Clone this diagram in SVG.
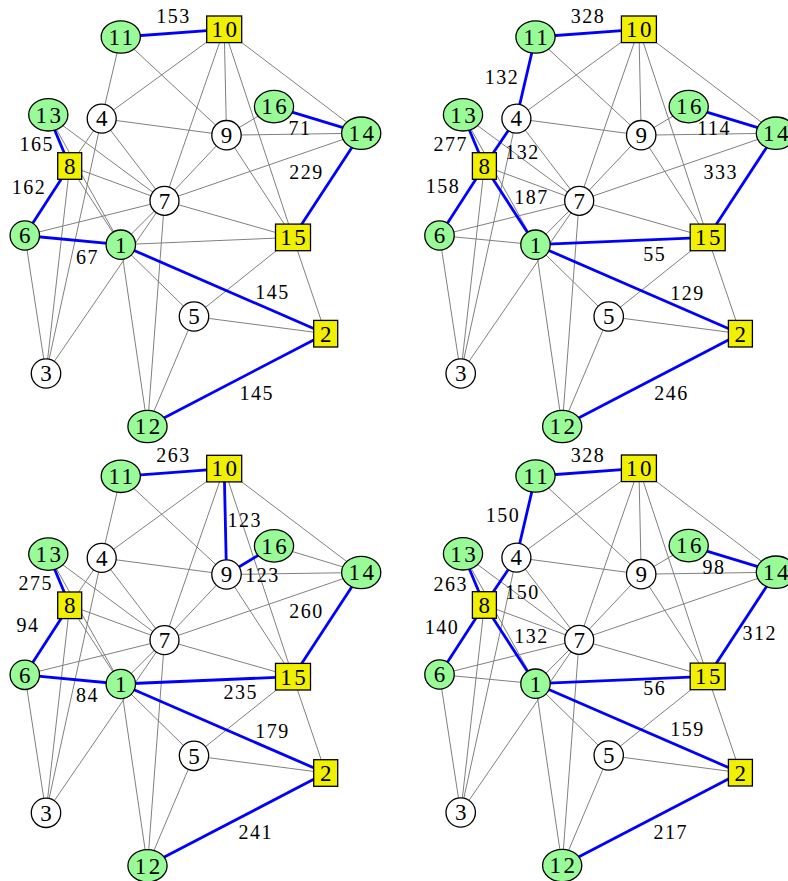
<svg xmlns="http://www.w3.org/2000/svg" width="788" height="881" viewBox="0 0 788 881">
<style>
  .edges line { stroke: #808080; stroke-width: 1; fill: none; }
  .edges line.b { stroke: #0000ff; stroke-width: 2.8; }
  .node circle, .node ellipse, .node rect { stroke: #000; stroke-width: 1.3; }
  .g { fill: #98fb98; }
  .y { fill: #f0f000; }
  .w { fill: #ffffff; }
  .nl { font-family: "Liberation Serif", "DejaVu Serif", serif; font-size: 23px; letter-spacing: 2.5px; text-anchor: middle; fill: #000; }
  .el { font-family: "Liberation Serif", "DejaVu Serif", serif; font-size: 20px; letter-spacing: 1.5px; text-anchor: middle; fill: #000; }
</style>
<rect width="788" height="881" fill="#ffffff"/>

<!-- Panel 1 -->
<g id="panel1">
  <g id="p1-connectors" class="edges">
    <line x1="120.8" y1="37" x2="101.7" y2="118.6"/>
    <line x1="120.8" y1="37" x2="226.5" y2="135.2"/>
    <line x1="224.2" y1="29.3" x2="101.7" y2="118.6"/>
    <line x1="224.2" y1="29.3" x2="226.5" y2="135.2"/>
    <line x1="224.2" y1="29.3" x2="164.5" y2="200.8"/>
    <line x1="224.2" y1="29.3" x2="293" y2="237.4"/>
    <line x1="224.2" y1="29.3" x2="361.2" y2="133.2"/>
    <line x1="48.3" y1="114.8" x2="164.5" y2="200.8"/>
    <line x1="48.3" y1="114.8" x2="120.8" y2="244.7"/>
    <line x1="101.7" y1="118.6" x2="226.5" y2="135.2"/>
    <line x1="101.7" y1="118.6" x2="69.7" y2="166"/>
    <line x1="101.7" y1="118.6" x2="164.5" y2="200.8"/>
    <line x1="101.7" y1="118.6" x2="46" y2="373.5"/>
    <line x1="274" y1="106.6" x2="226.5" y2="135.2"/>
    <line x1="226.5" y1="135.2" x2="361.2" y2="133.2"/>
    <line x1="226.5" y1="135.2" x2="164.5" y2="200.8"/>
    <line x1="226.5" y1="135.2" x2="293" y2="237.4"/>
    <line x1="361.2" y1="133.2" x2="164.5" y2="200.8"/>
    <line x1="69.7" y1="166" x2="164.5" y2="200.8"/>
    <line x1="69.7" y1="166" x2="46" y2="373.5"/>
    <line x1="69.7" y1="166" x2="120.8" y2="244.7"/>
    <line x1="164.5" y1="200.8" x2="24.8" y2="235.5"/>
    <line x1="164.5" y1="200.8" x2="120.8" y2="244.7"/>
    <line x1="164.5" y1="200.8" x2="147.5" y2="426.5"/>
    <line x1="164.5" y1="200.8" x2="293" y2="237.4"/>
    <line x1="164.5" y1="200.8" x2="46" y2="373.5"/>
    <line x1="24.8" y1="235.5" x2="46" y2="373.5"/>
    <line x1="120.8" y1="244.7" x2="293" y2="237.4"/>
    <line x1="120.8" y1="244.7" x2="194" y2="316.5"/>
    <line x1="120.8" y1="244.7" x2="147.5" y2="426.5"/>
    <line x1="293" y1="237.4" x2="194" y2="316.5"/>
    <line x1="293" y1="237.4" x2="325.7" y2="333.7"/>
    <line x1="194" y1="316.5" x2="325.7" y2="333.7"/>
    <line x1="194" y1="316.5" x2="147.5" y2="426.5"/>
    <line class="b" x1="120.8" y1="37" x2="224.2" y2="29.3"/>
    <line class="b" x1="48.3" y1="114.8" x2="69.7" y2="166"/>
    <line class="b" x1="69.7" y1="166" x2="24.8" y2="235.5"/>
    <line class="b" x1="24.8" y1="235.5" x2="120.8" y2="244.7"/>
    <line class="b" x1="120.8" y1="244.7" x2="325.7" y2="333.7"/>
    <line class="b" x1="147.5" y1="426.5" x2="325.7" y2="333.7"/>
    <line class="b" x1="361.2" y1="133.2" x2="293" y2="237.4"/>
    <line class="b" x1="274" y1="106.6" x2="361.2" y2="133.2"/>
  </g>
  <g id="p1-weights">
    <text class="el" x="173.5" y="22.8">153</text>
    <text class="el" x="36.8" y="150.8">165</text>
    <text class="el" x="29.1" y="193.5">162</text>
    <text class="el" x="300" y="135.1">71</text>
    <text class="el" x="306.5" y="178.5">229</text>
    <text class="el" x="87.5" y="263.5">67</text>
    <text class="el" x="272.5" y="299.1">145</text>
    <text class="el" x="256.8" y="399.5">145</text>
  </g>
  <g id="p1-n1" class="node" transform="translate(120.8,244.7)"><circle class="g" r="14.7"/><text class="nl" x="1.2" y="7.8">1</text></g>
  <g id="p1-n2" class="node" transform="translate(325.7,333.7)"><rect class="y" x="-12" y="-13.3" width="24" height="26.6"/><text class="nl" x="1.2" y="7.8">2</text></g>
  <g id="p1-n3" class="node" transform="translate(46,373.5)"><circle class="w" r="14.7"/><text class="nl" x="1.2" y="7.8">3</text></g>
  <g id="p1-n4" class="node" transform="translate(101.7,118.6)"><circle class="w" r="14.5"/><text class="nl" x="1.2" y="7.8">4</text></g>
  <g id="p1-n5" class="node" transform="translate(194,316.5)"><circle class="w" r="14.7"/><text class="nl" x="1.2" y="7.8">5</text></g>
  <g id="p1-n6" class="node" transform="translate(24.8,235.5)"><circle class="g" r="14.7"/><text class="nl" x="1.2" y="7.8">6</text></g>
  <g id="p1-n7" class="node" transform="translate(164.5,200.8)"><circle class="w" r="14.5"/><text class="nl" x="1.2" y="7.8">7</text></g>
  <g id="p1-n8" class="node" transform="translate(69.7,166)"><rect class="y" x="-12" y="-13.3" width="24" height="26.6"/><text class="nl" x="1.2" y="7.8">8</text></g>
  <g id="p1-n9" class="node" transform="translate(226.5,135.2)"><circle class="w" r="14.7"/><text class="nl" x="1.2" y="7.8">9</text></g>
  <g id="p1-n10" class="node" transform="translate(224.2,29.3)"><rect class="y" x="-17.5" y="-13.3" width="35" height="26.6"/><text class="nl" x="1.2" y="7.8">10</text></g>
  <g id="p1-n11" class="node" transform="translate(120.8,37)"><ellipse class="g" rx="19.6" ry="16.2"/><text class="nl" x="1.2" y="7.8">11</text></g>
  <g id="p1-n12" class="node" transform="translate(147.5,426.5)"><ellipse class="g" rx="19.6" ry="16.2"/><text class="nl" x="1.2" y="7.8">12</text></g>
  <g id="p1-n13" class="node" transform="translate(48.3,114.8)"><ellipse class="g" rx="19.6" ry="16.2"/><text class="nl" x="1.2" y="7.8">13</text></g>
  <g id="p1-n14" class="node" transform="translate(361.2,133.2)"><ellipse class="g" rx="19.6" ry="16.2"/><text class="nl" x="1.2" y="7.8">14</text></g>
  <g id="p1-n15" class="node" transform="translate(293,237.4)"><rect class="y" x="-17.5" y="-13.3" width="35" height="26.6"/><text class="nl" x="1.2" y="7.8">15</text></g>
  <g id="p1-n16" class="node" transform="translate(274,106.6)"><ellipse class="g" rx="19.6" ry="16.2"/><text class="nl" x="1.2" y="7.8">16</text></g>
</g>

<!-- Panel 2 -->
<g id="panel2" transform="translate(414.7,0)">
  <g id="p2-connectors" class="edges">
    <line x1="120.8" y1="37" x2="226.5" y2="135.2"/>
    <line x1="224.2" y1="29.3" x2="101.7" y2="118.6"/>
    <line x1="224.2" y1="29.3" x2="226.5" y2="135.2"/>
    <line x1="224.2" y1="29.3" x2="164.5" y2="200.8"/>
    <line x1="224.2" y1="29.3" x2="293" y2="237.4"/>
    <line x1="224.2" y1="29.3" x2="361.2" y2="133.2"/>
    <line x1="48.3" y1="114.8" x2="164.5" y2="200.8"/>
    <line x1="48.3" y1="114.8" x2="120.8" y2="244.7"/>
    <line x1="101.7" y1="118.6" x2="226.5" y2="135.2"/>
    <line x1="101.7" y1="118.6" x2="164.5" y2="200.8"/>
    <line x1="101.7" y1="118.6" x2="46" y2="373.5"/>
    <line x1="274" y1="106.6" x2="226.5" y2="135.2"/>
    <line x1="226.5" y1="135.2" x2="361.2" y2="133.2"/>
    <line x1="226.5" y1="135.2" x2="164.5" y2="200.8"/>
    <line x1="226.5" y1="135.2" x2="293" y2="237.4"/>
    <line x1="361.2" y1="133.2" x2="164.5" y2="200.8"/>
    <line x1="69.7" y1="166" x2="164.5" y2="200.8"/>
    <line x1="69.7" y1="166" x2="46" y2="373.5"/>
    <line x1="164.5" y1="200.8" x2="24.8" y2="235.5"/>
    <line x1="164.5" y1="200.8" x2="120.8" y2="244.7"/>
    <line x1="164.5" y1="200.8" x2="147.5" y2="426.5"/>
    <line x1="164.5" y1="200.8" x2="293" y2="237.4"/>
    <line x1="164.5" y1="200.8" x2="46" y2="373.5"/>
    <line x1="24.8" y1="235.5" x2="120.8" y2="244.7"/>
    <line x1="24.8" y1="235.5" x2="46" y2="373.5"/>
    <line x1="120.8" y1="244.7" x2="194" y2="316.5"/>
    <line x1="120.8" y1="244.7" x2="147.5" y2="426.5"/>
    <line x1="293" y1="237.4" x2="194" y2="316.5"/>
    <line x1="293" y1="237.4" x2="325.7" y2="333.7"/>
    <line x1="194" y1="316.5" x2="325.7" y2="333.7"/>
    <line x1="194" y1="316.5" x2="147.5" y2="426.5"/>
    <line class="b" x1="120.8" y1="37" x2="224.2" y2="29.3"/>
    <line class="b" x1="120.8" y1="37" x2="101.7" y2="118.6"/>
    <line class="b" x1="101.7" y1="118.6" x2="69.7" y2="166"/>
    <line class="b" x1="48.3" y1="114.8" x2="69.7" y2="166"/>
    <line class="b" x1="69.7" y1="166" x2="24.8" y2="235.5"/>
    <line class="b" x1="69.7" y1="166" x2="120.8" y2="244.7"/>
    <line class="b" x1="120.8" y1="244.7" x2="293" y2="237.4"/>
    <line class="b" x1="120.8" y1="244.7" x2="325.7" y2="333.7"/>
    <line class="b" x1="147.5" y1="426.5" x2="325.7" y2="333.7"/>
    <line class="b" x1="361.2" y1="133.2" x2="293" y2="237.4"/>
    <line class="b" x1="274" y1="106.6" x2="361.2" y2="133.2"/>
  </g>
  <g id="p2-weights">
    <text class="el" x="173.4" y="22.8">328</text>
    <text class="el" x="87.4" y="83.5">132</text>
    <text class="el" x="36.1" y="151.1">277</text>
    <text class="el" x="107.8" y="159.1">132</text>
    <text class="el" x="28.4" y="192.8">158</text>
    <text class="el" x="116.8" y="203.5">187</text>
    <text class="el" x="299.4" y="135.1">114</text>
    <text class="el" x="306.1" y="178.5">333</text>
    <text class="el" x="240.1" y="260.8">55</text>
    <text class="el" x="272.8" y="299.5">129</text>
    <text class="el" x="256.8" y="400.1">246</text>
  </g>
  <g id="p2-n1" class="node" transform="translate(120.8,244.7)"><circle class="g" r="14.7"/><text class="nl" x="1.2" y="7.8">1</text></g>
  <g id="p2-n2" class="node" transform="translate(325.7,333.7)"><rect class="y" x="-12" y="-13.3" width="24" height="26.6"/><text class="nl" x="1.2" y="7.8">2</text></g>
  <g id="p2-n3" class="node" transform="translate(46,373.5)"><circle class="w" r="14.7"/><text class="nl" x="1.2" y="7.8">3</text></g>
  <g id="p2-n4" class="node" transform="translate(101.7,118.6)"><circle class="w" r="14.5"/><text class="nl" x="1.2" y="7.8">4</text></g>
  <g id="p2-n5" class="node" transform="translate(194,316.5)"><circle class="w" r="14.7"/><text class="nl" x="1.2" y="7.8">5</text></g>
  <g id="p2-n6" class="node" transform="translate(24.8,235.5)"><circle class="g" r="14.7"/><text class="nl" x="1.2" y="7.8">6</text></g>
  <g id="p2-n7" class="node" transform="translate(164.5,200.8)"><circle class="w" r="14.5"/><text class="nl" x="1.2" y="7.8">7</text></g>
  <g id="p2-n8" class="node" transform="translate(69.7,166)"><rect class="y" x="-12" y="-13.3" width="24" height="26.6"/><text class="nl" x="1.2" y="7.8">8</text></g>
  <g id="p2-n9" class="node" transform="translate(226.5,135.2)"><circle class="w" r="14.7"/><text class="nl" x="1.2" y="7.8">9</text></g>
  <g id="p2-n10" class="node" transform="translate(224.2,29.3)"><rect class="y" x="-17.5" y="-13.3" width="35" height="26.6"/><text class="nl" x="1.2" y="7.8">10</text></g>
  <g id="p2-n11" class="node" transform="translate(120.8,37)"><ellipse class="g" rx="19.6" ry="16.2"/><text class="nl" x="1.2" y="7.8">11</text></g>
  <g id="p2-n12" class="node" transform="translate(147.5,426.5)"><ellipse class="g" rx="19.6" ry="16.2"/><text class="nl" x="1.2" y="7.8">12</text></g>
  <g id="p2-n13" class="node" transform="translate(48.3,114.8)"><ellipse class="g" rx="19.6" ry="16.2"/><text class="nl" x="1.2" y="7.8">13</text></g>
  <g id="p2-n14" class="node" transform="translate(361.2,133.2)"><ellipse class="g" rx="19.6" ry="16.2"/><text class="nl" x="1.2" y="7.8">14</text></g>
  <g id="p2-n15" class="node" transform="translate(293,237.4)"><rect class="y" x="-17.5" y="-13.3" width="35" height="26.6"/><text class="nl" x="1.2" y="7.8">15</text></g>
  <g id="p2-n16" class="node" transform="translate(274,106.6)"><ellipse class="g" rx="19.6" ry="16.2"/><text class="nl" x="1.2" y="7.8">16</text></g>
</g>

<!-- Panel 3 -->
<g id="panel3" transform="translate(0,439.3)">
  <g id="p3-connectors" class="edges">
    <line x1="120.8" y1="37" x2="101.7" y2="118.6"/>
    <line x1="120.8" y1="37" x2="226.5" y2="135.2"/>
    <line x1="224.2" y1="29.3" x2="101.7" y2="118.6"/>
    <line x1="224.2" y1="29.3" x2="164.5" y2="200.8"/>
    <line x1="224.2" y1="29.3" x2="293" y2="237.4"/>
    <line x1="224.2" y1="29.3" x2="361.2" y2="133.2"/>
    <line x1="48.3" y1="114.8" x2="164.5" y2="200.8"/>
    <line x1="48.3" y1="114.8" x2="120.8" y2="244.7"/>
    <line x1="101.7" y1="118.6" x2="226.5" y2="135.2"/>
    <line x1="101.7" y1="118.6" x2="69.7" y2="166"/>
    <line x1="101.7" y1="118.6" x2="164.5" y2="200.8"/>
    <line x1="101.7" y1="118.6" x2="46" y2="373.5"/>
    <line x1="274" y1="106.6" x2="361.2" y2="133.2"/>
    <line x1="226.5" y1="135.2" x2="361.2" y2="133.2"/>
    <line x1="226.5" y1="135.2" x2="164.5" y2="200.8"/>
    <line x1="226.5" y1="135.2" x2="293" y2="237.4"/>
    <line x1="361.2" y1="133.2" x2="164.5" y2="200.8"/>
    <line x1="69.7" y1="166" x2="164.5" y2="200.8"/>
    <line x1="69.7" y1="166" x2="46" y2="373.5"/>
    <line x1="69.7" y1="166" x2="120.8" y2="244.7"/>
    <line x1="164.5" y1="200.8" x2="24.8" y2="235.5"/>
    <line x1="164.5" y1="200.8" x2="120.8" y2="244.7"/>
    <line x1="164.5" y1="200.8" x2="147.5" y2="426.5"/>
    <line x1="164.5" y1="200.8" x2="293" y2="237.4"/>
    <line x1="164.5" y1="200.8" x2="46" y2="373.5"/>
    <line x1="24.8" y1="235.5" x2="46" y2="373.5"/>
    <line x1="120.8" y1="244.7" x2="194" y2="316.5"/>
    <line x1="120.8" y1="244.7" x2="147.5" y2="426.5"/>
    <line x1="293" y1="237.4" x2="194" y2="316.5"/>
    <line x1="293" y1="237.4" x2="325.7" y2="333.7"/>
    <line x1="194" y1="316.5" x2="325.7" y2="333.7"/>
    <line x1="194" y1="316.5" x2="147.5" y2="426.5"/>
    <line class="b" x1="120.8" y1="37" x2="224.2" y2="29.3"/>
    <line class="b" x1="224.2" y1="29.3" x2="226.5" y2="135.2"/>
    <line class="b" x1="274" y1="106.6" x2="226.5" y2="135.2"/>
    <line class="b" x1="48.3" y1="114.8" x2="69.7" y2="166"/>
    <line class="b" x1="69.7" y1="166" x2="24.8" y2="235.5"/>
    <line class="b" x1="24.8" y1="235.5" x2="120.8" y2="244.7"/>
    <line class="b" x1="120.8" y1="244.7" x2="293" y2="237.4"/>
    <line class="b" x1="120.8" y1="244.7" x2="325.7" y2="333.7"/>
    <line class="b" x1="147.5" y1="426.5" x2="325.7" y2="333.7"/>
    <line class="b" x1="361.2" y1="133.2" x2="293" y2="237.4"/>
  </g>
  <g id="p3-weights">
    <text class="el" x="173.5" y="22.5">263</text>
    <text class="el" x="244.8" y="87.5">123</text>
    <text class="el" x="262.5" y="142.5">123</text>
    <text class="el" x="35.8" y="150.8">275</text>
    <text class="el" x="28.1" y="192.5">94</text>
    <text class="el" x="306.5" y="179.2">260</text>
    <text class="el" x="87.5" y="263.2">84</text>
    <text class="el" x="240.8" y="259.8">235</text>
    <text class="el" x="272.5" y="298.5">179</text>
    <text class="el" x="255.8" y="399.8">241</text>
  </g>
  <g id="p3-n1" class="node" transform="translate(120.8,244.7)"><circle class="g" r="14.7"/><text class="nl" x="1.2" y="7.8">1</text></g>
  <g id="p3-n2" class="node" transform="translate(325.7,333.7)"><rect class="y" x="-12" y="-13.3" width="24" height="26.6"/><text class="nl" x="1.2" y="7.8">2</text></g>
  <g id="p3-n3" class="node" transform="translate(46,373.5)"><circle class="w" r="14.7"/><text class="nl" x="1.2" y="7.8">3</text></g>
  <g id="p3-n4" class="node" transform="translate(101.7,118.6)"><circle class="w" r="14.5"/><text class="nl" x="1.2" y="7.8">4</text></g>
  <g id="p3-n5" class="node" transform="translate(194,316.5)"><circle class="w" r="14.7"/><text class="nl" x="1.2" y="7.8">5</text></g>
  <g id="p3-n6" class="node" transform="translate(24.8,235.5)"><circle class="g" r="14.7"/><text class="nl" x="1.2" y="7.8">6</text></g>
  <g id="p3-n7" class="node" transform="translate(164.5,200.8)"><circle class="w" r="14.5"/><text class="nl" x="1.2" y="7.8">7</text></g>
  <g id="p3-n8" class="node" transform="translate(69.7,166)"><rect class="y" x="-12" y="-13.3" width="24" height="26.6"/><text class="nl" x="1.2" y="7.8">8</text></g>
  <g id="p3-n9" class="node" transform="translate(226.5,135.2)"><circle class="w" r="14.7"/><text class="nl" x="1.2" y="7.8">9</text></g>
  <g id="p3-n10" class="node" transform="translate(224.2,29.3)"><rect class="y" x="-17.5" y="-13.3" width="35" height="26.6"/><text class="nl" x="1.2" y="7.8">10</text></g>
  <g id="p3-n11" class="node" transform="translate(120.8,37)"><ellipse class="g" rx="19.6" ry="16.2"/><text class="nl" x="1.2" y="7.8">11</text></g>
  <g id="p3-n12" class="node" transform="translate(147.5,426.5)"><ellipse class="g" rx="19.6" ry="16.2"/><text class="nl" x="1.2" y="7.8">12</text></g>
  <g id="p3-n13" class="node" transform="translate(48.3,114.8)"><ellipse class="g" rx="19.6" ry="16.2"/><text class="nl" x="1.2" y="7.8">13</text></g>
  <g id="p3-n14" class="node" transform="translate(361.2,133.2)"><ellipse class="g" rx="19.6" ry="16.2"/><text class="nl" x="1.2" y="7.8">14</text></g>
  <g id="p3-n15" class="node" transform="translate(293,237.4)"><rect class="y" x="-17.5" y="-13.3" width="35" height="26.6"/><text class="nl" x="1.2" y="7.8">15</text></g>
  <g id="p3-n16" class="node" transform="translate(274,106.6)"><ellipse class="g" rx="19.6" ry="16.2"/><text class="nl" x="1.2" y="7.8">16</text></g>
</g>

<!-- Panel 4 -->
<g id="panel4" transform="translate(414.7,439)">
  <g id="p4-connectors" class="edges">
    <line x1="120.8" y1="37" x2="226.5" y2="135.2"/>
    <line x1="224.2" y1="29.3" x2="101.7" y2="118.6"/>
    <line x1="224.2" y1="29.3" x2="226.5" y2="135.2"/>
    <line x1="224.2" y1="29.3" x2="164.5" y2="200.8"/>
    <line x1="224.2" y1="29.3" x2="293" y2="237.4"/>
    <line x1="224.2" y1="29.3" x2="361.2" y2="133.2"/>
    <line x1="48.3" y1="114.8" x2="164.5" y2="200.8"/>
    <line x1="48.3" y1="114.8" x2="120.8" y2="244.7"/>
    <line x1="101.7" y1="118.6" x2="226.5" y2="135.2"/>
    <line x1="101.7" y1="118.6" x2="164.5" y2="200.8"/>
    <line x1="101.7" y1="118.6" x2="46" y2="373.5"/>
    <line x1="274" y1="106.6" x2="226.5" y2="135.2"/>
    <line x1="226.5" y1="135.2" x2="361.2" y2="133.2"/>
    <line x1="226.5" y1="135.2" x2="164.5" y2="200.8"/>
    <line x1="226.5" y1="135.2" x2="293" y2="237.4"/>
    <line x1="361.2" y1="133.2" x2="164.5" y2="200.8"/>
    <line x1="69.7" y1="166" x2="164.5" y2="200.8"/>
    <line x1="69.7" y1="166" x2="46" y2="373.5"/>
    <line x1="164.5" y1="200.8" x2="24.8" y2="235.5"/>
    <line x1="164.5" y1="200.8" x2="120.8" y2="244.7"/>
    <line x1="164.5" y1="200.8" x2="147.5" y2="426.5"/>
    <line x1="164.5" y1="200.8" x2="293" y2="237.4"/>
    <line x1="164.5" y1="200.8" x2="46" y2="373.5"/>
    <line x1="24.8" y1="235.5" x2="120.8" y2="244.7"/>
    <line x1="24.8" y1="235.5" x2="46" y2="373.5"/>
    <line x1="120.8" y1="244.7" x2="194" y2="316.5"/>
    <line x1="120.8" y1="244.7" x2="147.5" y2="426.5"/>
    <line x1="293" y1="237.4" x2="194" y2="316.5"/>
    <line x1="293" y1="237.4" x2="325.7" y2="333.7"/>
    <line x1="194" y1="316.5" x2="325.7" y2="333.7"/>
    <line x1="194" y1="316.5" x2="147.5" y2="426.5"/>
    <line class="b" x1="120.8" y1="37" x2="224.2" y2="29.3"/>
    <line class="b" x1="120.8" y1="37" x2="101.7" y2="118.6"/>
    <line class="b" x1="101.7" y1="118.6" x2="69.7" y2="166"/>
    <line class="b" x1="48.3" y1="114.8" x2="69.7" y2="166"/>
    <line class="b" x1="69.7" y1="166" x2="24.8" y2="235.5"/>
    <line class="b" x1="69.7" y1="166" x2="120.8" y2="244.7"/>
    <line class="b" x1="120.8" y1="244.7" x2="293" y2="237.4"/>
    <line class="b" x1="120.8" y1="244.7" x2="325.7" y2="333.7"/>
    <line class="b" x1="147.5" y1="426.5" x2="325.7" y2="333.7"/>
    <line class="b" x1="361.2" y1="133.2" x2="293" y2="237.4"/>
    <line class="b" x1="274" y1="106.6" x2="361.2" y2="133.2"/>
  </g>
  <g id="p4-weights">
    <text class="el" x="173.4" y="22.8">328</text>
    <text class="el" x="88.4" y="82.8">150</text>
    <text class="el" x="36.1" y="151.8">263</text>
    <text class="el" x="107.8" y="159.5">150</text>
    <text class="el" x="27.4" y="194.5">140</text>
    <text class="el" x="116.8" y="203.5">132</text>
    <text class="el" x="299.4" y="134.5">98</text>
    <text class="el" x="345.1" y="201.1">312</text>
    <text class="el" x="240.1" y="255.5">56</text>
    <text class="el" x="272.8" y="296.8">159</text>
    <text class="el" x="256.1" y="400.1">217</text>
  </g>
  <g id="p4-n1" class="node" transform="translate(120.8,244.7)"><circle class="g" r="14.7"/><text class="nl" x="1.2" y="7.8">1</text></g>
  <g id="p4-n2" class="node" transform="translate(325.7,333.7)"><rect class="y" x="-12" y="-13.3" width="24" height="26.6"/><text class="nl" x="1.2" y="7.8">2</text></g>
  <g id="p4-n3" class="node" transform="translate(46,373.5)"><circle class="w" r="14.7"/><text class="nl" x="1.2" y="7.8">3</text></g>
  <g id="p4-n4" class="node" transform="translate(101.7,118.6)"><circle class="w" r="14.5"/><text class="nl" x="1.2" y="7.8">4</text></g>
  <g id="p4-n5" class="node" transform="translate(194,316.5)"><circle class="w" r="14.7"/><text class="nl" x="1.2" y="7.8">5</text></g>
  <g id="p4-n6" class="node" transform="translate(24.8,235.5)"><circle class="g" r="14.7"/><text class="nl" x="1.2" y="7.8">6</text></g>
  <g id="p4-n7" class="node" transform="translate(164.5,200.8)"><circle class="w" r="14.5"/><text class="nl" x="1.2" y="7.8">7</text></g>
  <g id="p4-n8" class="node" transform="translate(69.7,166)"><rect class="y" x="-12" y="-13.3" width="24" height="26.6"/><text class="nl" x="1.2" y="7.8">8</text></g>
  <g id="p4-n9" class="node" transform="translate(226.5,135.2)"><circle class="w" r="14.7"/><text class="nl" x="1.2" y="7.8">9</text></g>
  <g id="p4-n10" class="node" transform="translate(224.2,29.3)"><rect class="y" x="-17.5" y="-13.3" width="35" height="26.6"/><text class="nl" x="1.2" y="7.8">10</text></g>
  <g id="p4-n11" class="node" transform="translate(120.8,37)"><ellipse class="g" rx="19.6" ry="16.2"/><text class="nl" x="1.2" y="7.8">11</text></g>
  <g id="p4-n12" class="node" transform="translate(147.5,426.5)"><ellipse class="g" rx="19.6" ry="16.2"/><text class="nl" x="1.2" y="7.8">12</text></g>
  <g id="p4-n13" class="node" transform="translate(48.3,114.8)"><ellipse class="g" rx="19.6" ry="16.2"/><text class="nl" x="1.2" y="7.8">13</text></g>
  <g id="p4-n14" class="node" transform="translate(361.2,133.2)"><ellipse class="g" rx="19.6" ry="16.2"/><text class="nl" x="1.2" y="7.8">14</text></g>
  <g id="p4-n15" class="node" transform="translate(293,237.4)"><rect class="y" x="-17.5" y="-13.3" width="35" height="26.6"/><text class="nl" x="1.2" y="7.8">15</text></g>
  <g id="p4-n16" class="node" transform="translate(274,106.6)"><ellipse class="g" rx="19.6" ry="16.2"/><text class="nl" x="1.2" y="7.8">16</text></g>
</g>
</svg>
